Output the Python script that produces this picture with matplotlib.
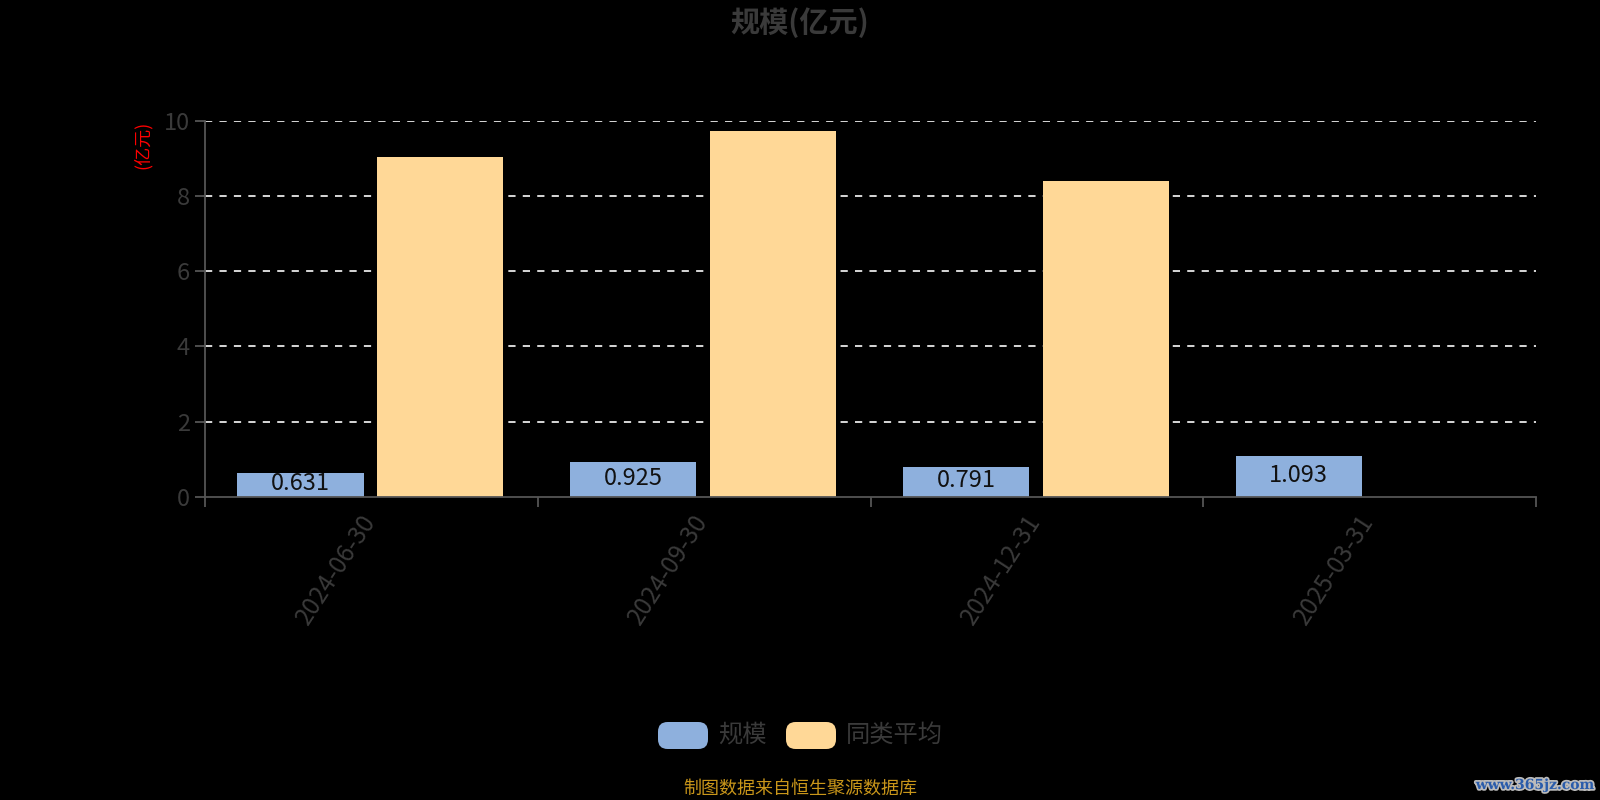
import matplotlib
matplotlib.use('Agg')
import matplotlib.pyplot as plt
import matplotlib.patheffects as pe
import matplotlib.transforms as mtrans
from matplotlib.patches import FancyBboxPatch
import numpy as np

plt.rcParams['font.family'] = ['Noto Sans CJK SC', 'DejaVu Sans']

# 数据
dates = ['2024-06-30', '2024-09-30', '2024-12-31', '2025-03-31']
scale = [0.631, 0.925, 0.791, 1.093]
peer_avg = [9.03, 9.71, 8.38, np.nan]
yticks = [0, 2, 4, 6, 8, 10]

c_blue = '#8eb0dd'
c_orange = '#ffd897'
c_text = '#3a3a3a'

fig = plt.figure(figsize=(16, 8), dpi=100, facecolor='black')
ax = fig.add_axes([205 / 1600, 1 - 497 / 800, (1536 - 205) / 1600, (497 - 120.5) / 800])
ax.set_facecolor('black')

x = np.arange(len(dates))
w = 0.38
b1 = ax.bar(x - 0.5 + 0.097, scale, width=w, align='edge', color=c_blue)
b2 = ax.bar(x - 0.5 + 0.097 + w + 0.04, peer_avg, width=w, align='edge', color=c_orange)

for rect, v in zip(b1, scale):
    ax.text(rect.get_x() + rect.get_width() / 2, v / 2 + 0.03, f'{v:.3f}',
            ha='center', va='center', fontsize=17, color='#111111')

ax.set_xlim(-0.5, len(dates) - 0.5)
ax.set_ylim(0, 10)
ax.set_yticks(yticks)
ax.set_yticklabels([str(t) for t in yticks])
for t in yticks[1:]:
    ax.axhline(t, color='#e8e8e8', lw=1.3, ls=(0, (4, 4)), zorder=0)

# 类别边界刻度 + 旋转的日期标签
ax.set_xticks(np.arange(len(dates) + 1) - 0.5)
ax.set_xticklabels([])
ax.tick_params(axis='x', length=7, color='#555555', width=1.3)
offset = mtrans.ScaledTranslation(-12 / 100, -13 / 100, fig.dpi_scale_trans)
for xi, d in zip(x, dates):
    ax.text(xi, 0, d, transform=ax.get_xaxis_transform() + offset,
            rotation=57, ha='right', va='top', rotation_mode='anchor',
            fontsize=17.5, color=c_text)

ax.tick_params(axis='y', length=7, color='#555555', width=1.3, labelsize=17,
               labelcolor=c_text, pad=4)

for s in ['top', 'right']:
    ax.spines[s].set_visible(False)
for s in ['left', 'bottom']:
    ax.spines[s].set_color('#555555')
    ax.spines[s].set_linewidth(1.3)

fig.text(143 / 1600, 1 - 145 / 800, '(亿元)', rotation=90, color='red',
         fontsize=13, ha='center', va='center')

fig.text(0.5, 1 - 23 / 800, '规模(亿元)', ha='center', va='center',
         fontsize=21, fontweight='bold', color=c_text)

# 图例
legend_items = [('规模', c_blue, 658), ('同类平均', c_orange, 786)]
for label, col, lx in legend_items:
    box = FancyBboxPatch((lx / 1600, 1 - 749 / 800), 50 / 1600, 27 / 800,
                         boxstyle='round,pad=0,rounding_size=0.006',
                         transform=fig.transFigure, facecolor=col,
                         edgecolor='none', mutation_aspect=2)
    fig.patches.append(box)
    fig.text((lx + 60) / 1600, 1 - 735 / 800, label, ha='left', va='center',
             fontsize=17.5, color=c_text)

fig.text(800 / 1600, 1 - 789 / 800, '制图数据来自恒生聚源数据库', ha='center', va='center',
         fontsize=13, color='#c9961a')

fig.text(1535 / 1600, 1 - 785 / 800, 'www.365jz.com', ha='center', va='center',
         fontsize=10, color='#2a5cab', fontweight='bold', family='DejaVu Serif',
         path_effects=[pe.withStroke(linewidth=2.5, foreground='#bbbbbb')])

fig.savefig('out.png', dpi=100, facecolor='black')
